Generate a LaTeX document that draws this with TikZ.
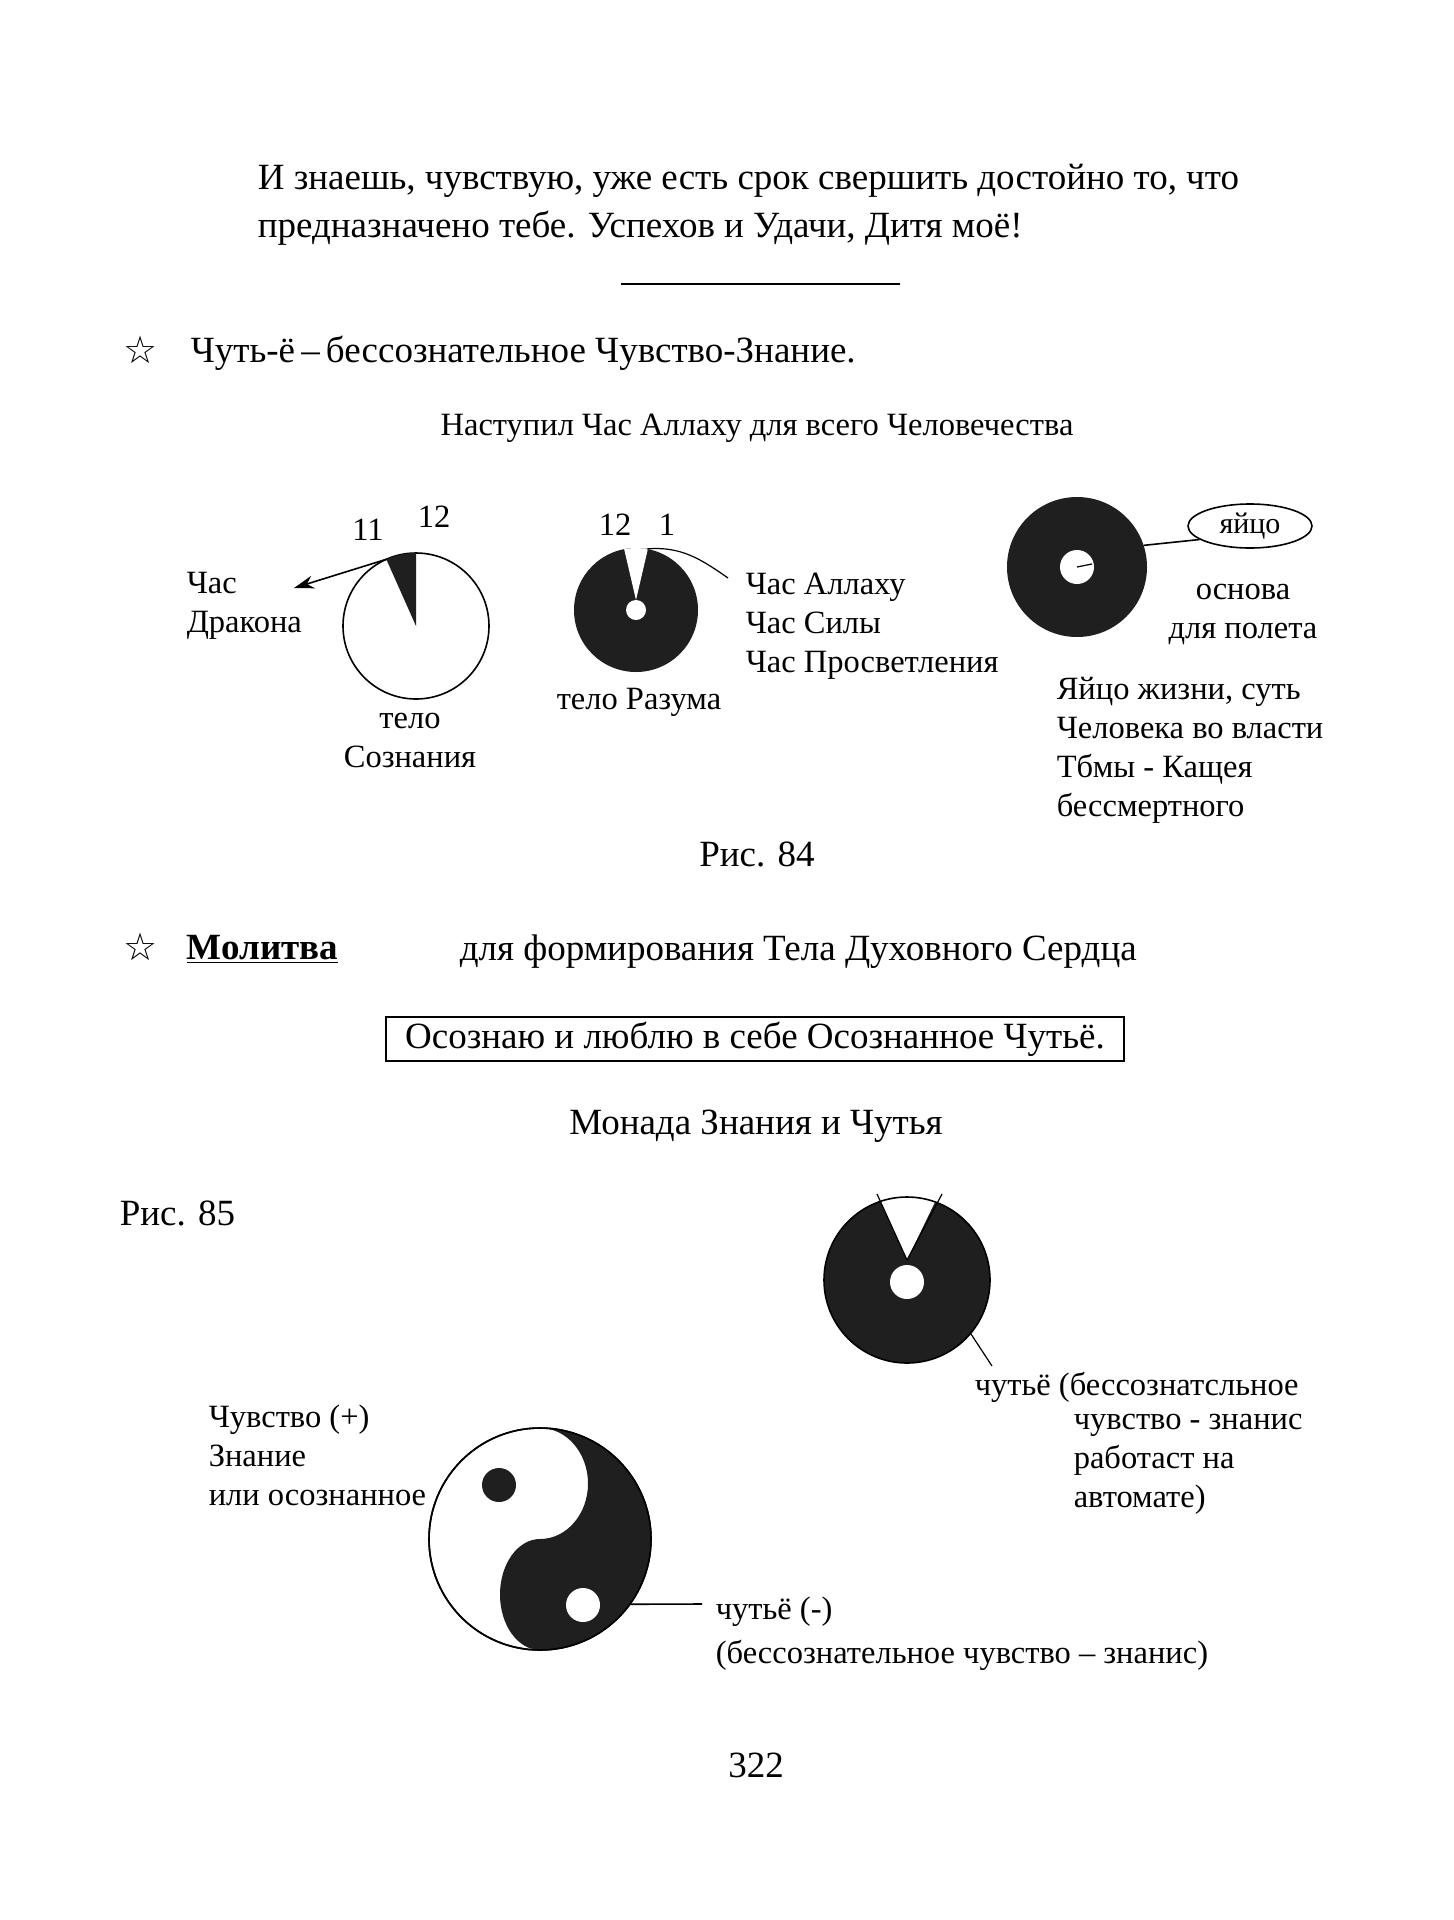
\documentclass[tikz,border=0pt]{standalone}
\usepackage{fontspec}
\setmainfont{Liberation Serif}
\newfontfamily\symfont{DejaVu Sans}
\usetikzlibrary{arrows.meta,shapes.geometric}
\begin{document}
\begin{tikzpicture}[x=1pt, y=1pt, >=Stealth, line width=1.6pt,
    big/.style={font=\fontsize{37}{46}\selectfont, inner sep=0pt},
    small/.style={font=\fontsize{32.5}{39}\selectfont, inner sep=0pt, align=left},
    star/.style={font=\symfont\fontsize{38}{40}\selectfont, inner sep=0pt},
    dark/.style={fill=black!88}]
    \useasboundingbox[fill=white] (0,0) rectangle (1454,-1920);

    % Текст сверху
    \node[big, anchor=west] (line1) at (257,-181) {И знаешь, чувствую, уже есть срок свершить достойно то, что};
    \node[big, anchor=west] (line2) at (257,-228) {предназначено тебе. Успехов и Удачи, Дитя моё!};
    \draw (621,-284) -- (900,-284);

    % Чуть-ё
    \node[star] (star1) at (141,-350) {☆};
    \node[big, anchor=west] (head1) at (190,-353) {Чуть-ё\,–\,бессознательное Чувство-Знание.};
    \node[small] (title84) at (757,-428) {Наступил Час Аллаху для всего Человечества};

    % тело Сознания
    \coordinate (c1) at (416,-626);
    \draw[fill=white] (c1) circle (73);
    \fill[dark] (c1) -- ++(90:73) arc (90:114:73) -- cycle;
    \node[small] (c1-n11) at (368,-530) {11};
    \node[small] (c1-n12) at (434,-517) {12};
    \coordinate (c1-11) at ([shift={(114:73)}]c1);
    \coordinate (drakon-tip) at (294,-588);
    \draw[-{Stealth[length=20pt,width=13pt]}] (c1-11) -- (drakon-tip);
    \node[small, anchor=west] (drakon) at (186,-606) {Час\\Дракона};
    \node[small, align=center] (soznanie) at (410,-740) {тело\\Сознания};

    % тело Разума
    \coordinate (c2) at (636,-610);
    \fill[dark] (c2) circle (62);
    \fill[white] (636,-600) -- ([shift={(101:62)}]c2) arc (101:79:62) -- cycle;
    \fill[white] (c2) circle (10);
    \node[small] (c2-n12) at (615,-525) {12};
    \node[small] (c2-n1) at (667,-525) {1};
    \coordinate (c2-1) at ([shift={(80:62)}]c2);
    \coordinate (allah-tip) at (728,-578);
    \draw[line width=1.2pt] (c2-1) to[out=5, in=145] (allah-tip);
    \node[small, anchor=west] (allah) at (745,-626) {Час Аллаху\\Час Силы\\Час Просветления};
    \node[small] (razum) at (639,-702) {тело Разума};

    % яйцо
    \coordinate (c3) at (1077,-567);
    \fill[dark] (c3) circle (70);
    \fill[white] (c3) circle (17);
    \draw[line width=1.2pt] (c3) -- +(15,3);
    \node[draw, ellipse, minimum width=124pt, minimum height=44pt, inner sep=0pt,
          font=\fontsize{30}{32}\selectfont] (egg) at (1250,-526) {яйцо};
    \coordinate (c3-egg) at ([shift={(18:70)}]c3);
    \draw (c3-egg) -- (egg.195);
    \node[small, align=center] (osnova) at (1243,-614) {основа\\для полета};
    \node[small, anchor=west] (yajco) at (1056,-750) {Яйцо жизни, суть\\Человека во власти\\Тбмы - Кащея\\бессмертного};

    \node[big] (ris84) at (757,-854) {Рис. 84};

    % Молитва
    \node[star] (star2) at (141,-947) {☆};
    \node[big, anchor=west] (molitva) at (186,-949) {\textbf{\underline{Молитва}}};
    \node[big, anchor=west] (serdce) at (459,-952) {для формирования Тела Духовного Сердца};
    \node[big, draw, minimum width=738pt, minimum height=44pt] (box) at (755,-1039) {Осознаю и люблю в себе Осознанное Чутьё.};
    \node[big] (monada) at (756,-1126) {Монада Знания и Чутья};
    \node[big, anchor=west] (ris85) at (119,-1213) {Рис. 85};

    % чутьё
    \coordinate (c4) at (907,-1280);
    \begin{scope}
        \clip (c4) circle (83);
        \fill[dark] (c4) circle (83);
        \fill[white] (907,-1260) -- (857,-1150) -- (960,-1150) -- cycle;
    \end{scope}
    \draw (c4) circle (83);
    \draw[line width=1.2pt] (877,-1194) -- (907,-1260) -- (942,-1194);
    \fill[white] (907,-1282) circle (17);
    \coordinate (c4-lbl) at ([shift={(-40:83)}]c4);
    \coordinate (chut-tip) at (992,-1366);
    \draw[line width=1.2pt] (c4-lbl) -- (chut-tip);
    \node[small, anchor=west] (chut1) at (974,-1387) {чутьё (бессознатсльное};
    \node[small, anchor=west] (chut2) at (1073,-1464) {чувство - знанис\\работаст на\\автомате)};

    % инь-ян
    \coordinate (yy) at (540,-1539);
    \draw[fill=white] (yy) circle (111);
    \fill[dark] (540,-1428) arc (90:-90:111)
        arc[start angle=270, end angle=90, x radius=40, y radius=55.5]
        arc[start angle=-90, end angle=90, x radius=48, y radius=55.5] -- cycle;
    \draw (yy) circle (111);
    \fill[dark] (499,-1485) circle (17);
    \fill[white] (583,-1605) circle (17);
    \coordinate (yy-lbl) at ([shift={(-36:111)}]yy);
    \coordinate (minus-tip) at (702,-1604);
    \draw (yy-lbl) -- (minus-tip);
    \node[small, anchor=west] (plus) at (208,-1455) {Чувство (+)\\Знание\\или осознанное};
    \node[small, anchor=west] (minus1) at (715,-1612) {чутьё (-)};
    \node[small, anchor=west] (minus2) at (715,-1655) {(бессознательное чувство – знанис)};

    \node[big] (page) at (756,-1765) {322};
\end{tikzpicture}
\end{document}
